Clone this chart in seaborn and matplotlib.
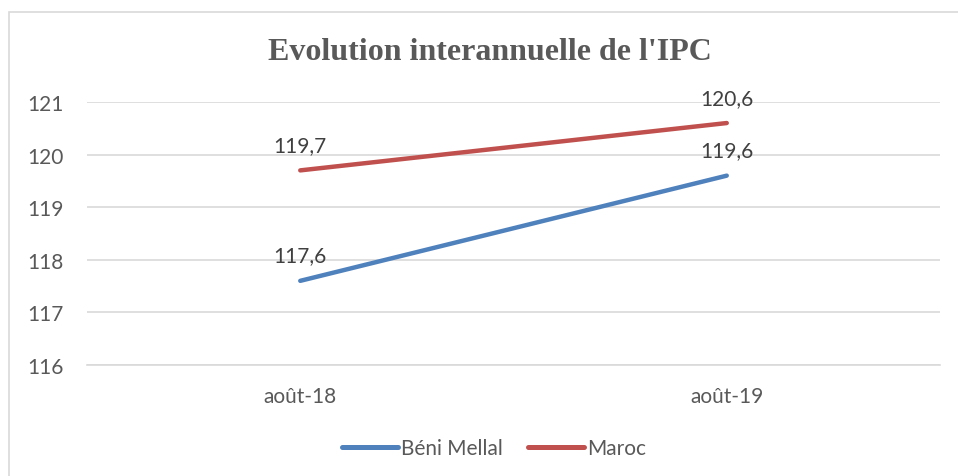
import matplotlib
matplotlib.use("Agg")
import matplotlib.pyplot as plt
from matplotlib.patches import Rectangle
import numpy as np
import seaborn as sns
import pandas as pd

periods = ["août-18", "août-19"]
beni_mellal = [117.6, 119.6]
maroc = [119.7, 120.6]
series = ["Béni Mellal", "Maroc"]
colors = ["#4F81BD", "#C0504D"]
yticks = [116, 117, 118, 119, 120, 121]

df = pd.DataFrame({
    "Période": periods * 2,
    "pos": [0, 1] * 2,
    "IPC": beni_mellal + maroc,
    "Série": [series[0]] * 2 + [series[1]] * 2,
})

sns.set_style("white")
plt.rcParams["font.family"] = ["Lato", "DejaVu Sans"]
txt = "#595959"

fig = plt.figure(figsize=(9.58, 4.77), dpi=100)
ax = fig.add_axes([87 / 958, 1 - 366 / 477, (940 - 87) / 958, (366 - 103) / 477])

sns.lineplot(data=df, x="pos", y="IPC", hue="Série", palette=colors,
             linewidth=3.2, ax=ax, legend=False,
             solid_capstyle="round")

for vals in (beni_mellal, maroc):
    for i, v in enumerate(vals):
        ax.annotate(f"{v:.1f}".replace(".", ","), (i, v), xytext=(0, 11),
                    textcoords="offset points", ha="center", va="bottom",
                    fontsize=15, color="#404040")

ax.set_xlim(-0.5, 1.5)
ax.set_ylim(116, 121)
ax.set_yticks(yticks)
ax.set_yticklabels([str(t) for t in yticks])
ax.set_xticks([0, 1])
ax.set_xticklabels(periods)
ax.set_xticks([-0.5, 0.5, 1.5], minor=True)
ax.tick_params(axis="x", which="major", length=0, pad=15, labelsize=15, labelcolor=txt)
ax.tick_params(axis="x", which="minor", length=6, color="#d9d9d9", direction="out")
ax.tick_params(axis="y", length=0, pad=17, labelsize=15, labelcolor=txt)
ax.yaxis.grid(True, color="#d9d9d9", linewidth=1.2)
ax.set_axisbelow(True)
for s in ["top", "right", "left"]:
    ax.spines[s].set_visible(False)
ax.spines["bottom"].set_color("#d9d9d9")
ax.spines["bottom"].set_linewidth(1.2)
ax.set_xlabel("")
ax.set_ylabel("")

fig.text(490 / 958, 1 - 52 / 477, "Evolution interannuelle de l'IPC",
         ha="center", va="center", fontsize=23, fontweight="bold",
         family="Liberation Serif", color=txt)

handles = [plt.Line2D([0], [0], color=c, lw=3.6, solid_capstyle="round") for c in colors]
fig.legend(handles, series, loc="center", bbox_to_anchor=(494 / 958, 1 - 449 / 477),
           ncol=2, frameon=False, fontsize=15, handlelength=2.7, handletextpad=0.15,
           columnspacing=1.2, labelcolor=txt)

fig.patches.append(Rectangle((9 / 958, -0.2), 1.2, 1 - 13 / 477 + 0.2,
                             transform=fig.transFigure, fill=False,
                             edgecolor="#d9d9d9", linewidth=1.2))

fig.savefig("out.png", dpi=100)
